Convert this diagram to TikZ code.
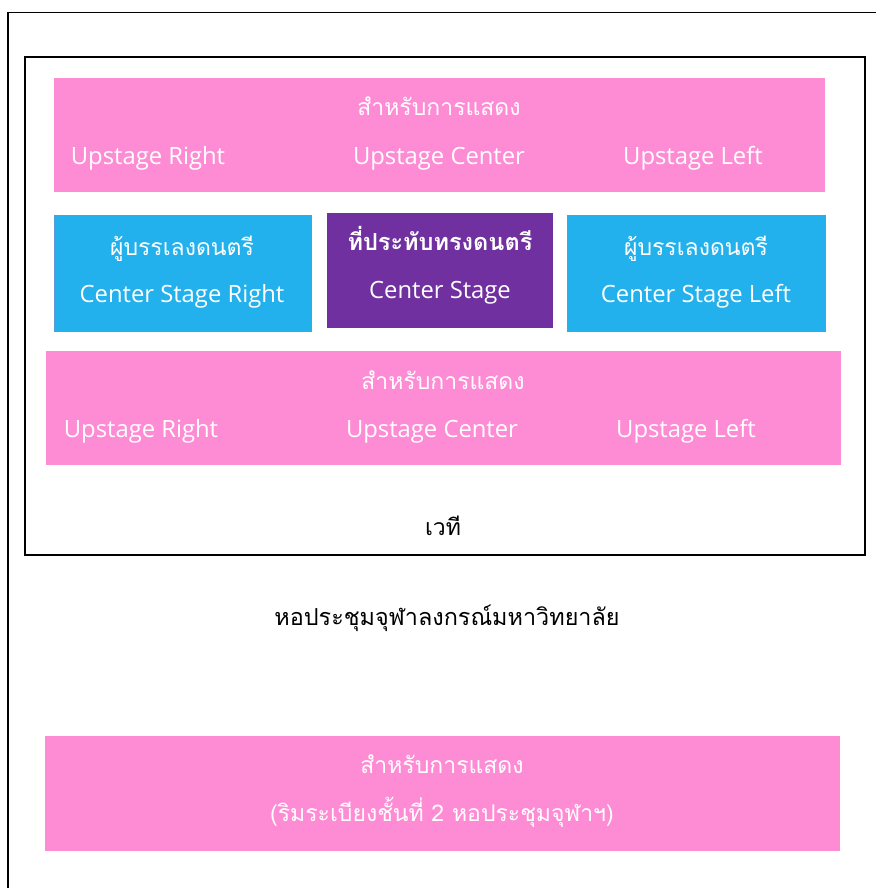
\documentclass[tikz,border=0pt]{standalone}
\usepackage{fontspec}
\setmainfont{Open Sans}
\newfontfamily\thaifont[Script=Thai]{Loma}
\definecolor{showpink}{RGB}{253,140,213}
\definecolor{musicblue}{RGB}{34,177,236}
\definecolor{musicedge}{RGB}{91,155,213}
\definecolor{royalpurple}{RGB}{112,48,160}
\tikzset{
    zone/.style n args={2}{minimum width=#1, minimum height=#2, inner sep=0pt, outer sep=0pt},
    pinkzone/.style={fill=showpink},
    bluezone/.style={fill=musicblue, draw=musicedge, line width=0.8pt},
    purplezone/.style={fill=royalpurple},
    lbl/.style={anchor=base, inner sep=0pt, font=\fontsize{23.8}{28}\selectfont},
    wlbl/.style={lbl, text=white},
    thlbl/.style={anchor=base, inner sep=0pt, font=\fontsize{23}{27}\thaifont},
}
\begin{document}
\begin{tikzpicture}[x=1pt,y=-1pt]
    \useasboundingbox (0,0) rectangle (876,888);

    % Hall outline (runs off the page at right and bottom)
    \draw[line width=1.8pt] (8,888) -- (8,12.5) -- (876,12.5);

    % Stage frame
    \node[draw, line width=1.8pt, zone={840pt}{498pt}] (stage) at (445,306) {};

    % Upper performance area
    \node[pinkzone, zone={771pt}{114pt}] (upper) at (439.5,135) {};
    \node[thlbl, text=white] (upperTh) at (439,116) {สำหรับการแสดง};
    \node[wlbl] (upperR) at (148,164) {Upstage Right};
    \node[wlbl] (upperC) at (439,164) {Upstage Center};
    \node[wlbl] (upperL) at (693,164) {Upstage Left};

    % Musicians and royal seat
    \node[bluezone, zone={257pt}{116pt}] (bandR) at (182.5,273) {};
    \node[thlbl, text=white] (bandRTh) at (182,255) {ผู้บรรเลงดนตรี};
    \node[wlbl] (bandRLb) at (182,302) {Center Stage Right};

    \node[purplezone, zone={226pt}{115pt}] (royal) at (440,270.5) {};
    \node[thlbl, text=white, font=\fontsize{23.5}{27}\thaifont\bfseries] (royalTh) at (440,250) {ที่ประทับทรงดนตรี};
    \node[wlbl] (royalLb) at (440,298) {Center Stage};

    \node[bluezone, zone={258pt}{116pt}] (bandL) at (696,273) {};
    \node[thlbl, text=white] (bandLTh) at (696,255) {ผู้บรรเลงดนตรี};
    \node[wlbl] (bandLLb) at (696,302) {Center Stage Left};

    % Lower performance area
    \node[pinkzone, zone={795pt}{114pt}] (lower) at (443.5,408) {};
    \node[thlbl, text=white] (lowerTh) at (443,389) {สำหรับการแสดง};
    \node[wlbl] (lowerR) at (141,437) {Upstage Right};
    \node[wlbl] (lowerC) at (432,437) {Upstage Center};
    \node[wlbl] (lowerL) at (686,437) {Upstage Left};

    % Labels
    \node[thlbl] (stageLb) at (443,535) {เวที};
    \node[thlbl, font=\fontsize{23.4}{28}\thaifont] (hallLb) at (447,625) {หอประชุมจุฬาลงกรณ์มหาวิทยาลัย};

    % Balcony performance area
    \node[pinkzone, zone={795pt}{115pt}] (balcony) at (442.5,793.5) {};
    \node[thlbl, text=white] (balconyTh) at (442,773) {สำหรับการแสดง};
    \node[thlbl, text=white] (balconyLb) at (442,821) {(ริมระเบียงชั้นที่ 2 หอประชุมจุฬาฯ)};

\end{tikzpicture}
\end{document}
